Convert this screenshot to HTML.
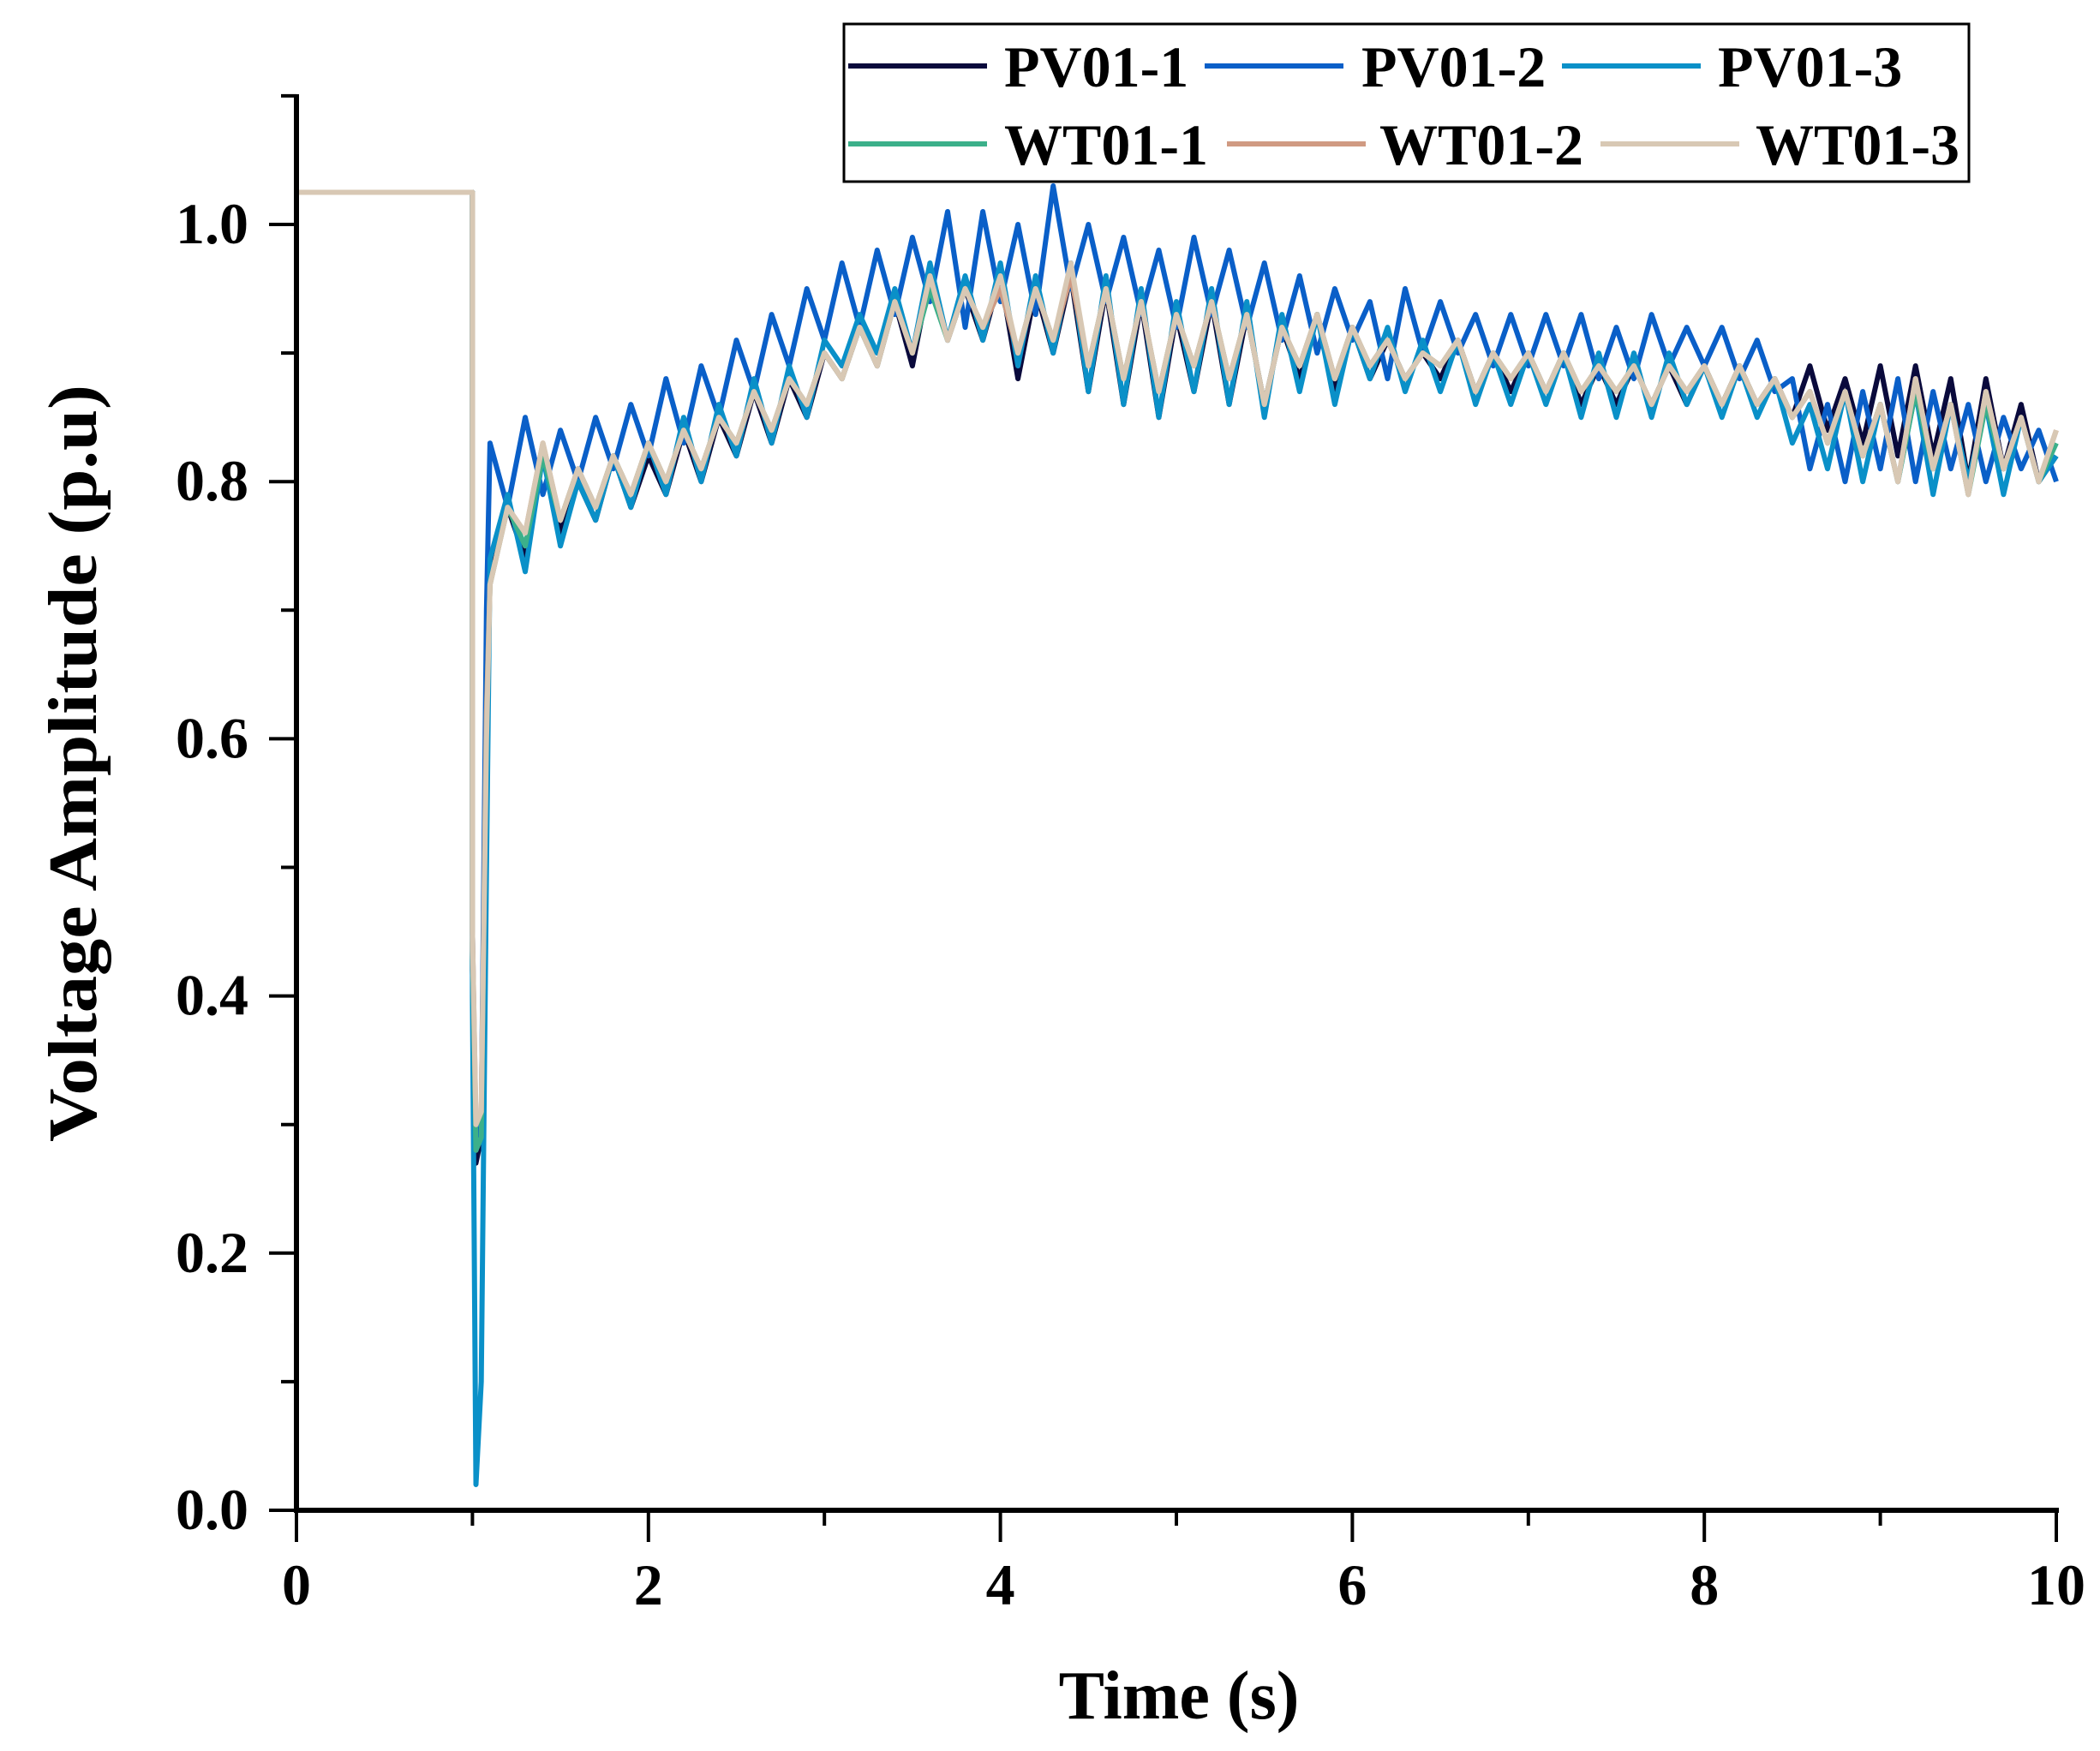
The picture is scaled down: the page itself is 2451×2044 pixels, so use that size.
<!DOCTYPE html>
<html><head><meta charset="utf-8"><style>
html,body{margin:0;padding:0;background:#fff}
svg{display:block}
text{font-family:"Liberation Serif",serif;font-weight:bold;fill:#000}
</style></head><body>
<svg id="chart" width="2451" height="2044" viewBox="0 0 2451 2044" xmlns="http://www.w3.org/2000/svg">
<g id="plot"></g>
<g id="axes"></g>
<text x="1376" y="2006" font-size="80" text-anchor="middle">Time (s)</text>
<text transform="translate(112,891) rotate(-90)" font-size="80" text-anchor="middle" textLength="884" lengthAdjust="spacingAndGlyphs">Voltage Amplitude (p.u)</text>
<g id="legend"></g>
</svg>
<script>
const seriesNames = ["PV01-1","PV01-2","PV01-3","WT01-1","WT01-2","WT01-3"];
const seriesColors = ["#0a0a3c","#0a5fc8","#0a90c8","#3cb08a","#d09a82","#d8c8b4"];
const xTicks = [0,2,4,6,8,10];
const xTickLabels = ["0","2","4","6","8","10"];
const yTicks = [0,0.2,0.4,0.6,0.8,1.0];
const yTickLabels = ["0.0","0.2","0.4","0.6","0.8","1.0"];
const tPrefix = [0,1.0,1.0,1.02,1.05,1.08];
const tStart = 1.1, tStep = 0.1, tCount = 90;

const pv011Pre = [1.025,1.025,0.42,0.27,0.29,0.62];
const pv011 = [0.73,0.78,0.74,0.82,0.76,0.80,0.77,0.82,0.78,0.82,
0.79,0.84,0.80,0.85,0.82,0.87,0.83,0.88,0.85,0.90,
0.88,0.92,0.89,0.94,0.89,0.96,0.91,0.95,0.91,0.96,
0.88,0.95,0.90,0.96,0.87,0.95,0.86,0.94,0.85,0.93,
0.87,0.94,0.86,0.93,0.86,0.92,0.88,0.93,0.87,0.92,
0.88,0.91,0.88,0.90,0.88,0.91,0.87,0.90,0.87,0.90,
0.87,0.90,0.86,0.89,0.86,0.89,0.86,0.89,0.86,0.89,
0.86,0.89,0.86,0.88,0.85,0.89,0.84,0.88,0.83,0.89,
0.82,0.89,0.82,0.88,0.80,0.88,0.81,0.86,0.80,0.82];
const pv012Pre = [1.025,1.025,0.45,0.28,0.30,0.70];
const pv012 = [0.83,0.78,0.85,0.79,0.84,0.80,0.85,0.81,0.86,0.82,
0.88,0.83,0.89,0.85,0.91,0.87,0.93,0.89,0.95,0.91,
0.97,0.92,0.98,0.93,0.99,0.94,1.01,0.92,1.01,0.94,
1.00,0.93,1.03,0.95,1.00,0.94,0.99,0.93,0.98,0.92,
0.99,0.93,0.98,0.92,0.97,0.91,0.96,0.90,0.95,0.91,
0.94,0.88,0.95,0.90,0.94,0.90,0.93,0.89,0.93,0.89,
0.93,0.89,0.93,0.88,0.92,0.88,0.93,0.89,0.92,0.89,
0.92,0.88,0.91,0.87,0.88,0.81,0.86,0.80,0.87,0.81,
0.88,0.80,0.87,0.81,0.86,0.80,0.85,0.81,0.84,0.80];
const pv013Pre = [1.025,1.025,0.40,0.02,0.10,0.50];
const pv013 = [0.74,0.79,0.73,0.82,0.75,0.80,0.77,0.82,0.78,0.83,
0.79,0.85,0.80,0.86,0.82,0.88,0.83,0.89,0.85,0.91,
0.89,0.93,0.90,0.95,0.90,0.97,0.91,0.96,0.91,0.97,
0.89,0.96,0.90,0.97,0.87,0.96,0.86,0.95,0.85,0.94,
0.87,0.95,0.86,0.94,0.85,0.93,0.87,0.93,0.86,0.92,
0.88,0.92,0.87,0.91,0.87,0.91,0.86,0.90,0.86,0.90,
0.86,0.90,0.85,0.90,0.85,0.90,0.85,0.90,0.86,0.89,
0.85,0.89,0.85,0.88,0.83,0.86,0.81,0.87,0.80,0.86,
0.80,0.87,0.79,0.86,0.80,0.86,0.79,0.85,0.80,0.82];
const wt011Pre = [1.025,1.025,0.44,0.28,0.29,0.62];
const wt011 = [0.72,0.78,0.75,0.82,0.77,0.81,0.78,0.82,0.79,0.83,
0.80,0.84,0.81,0.85,0.83,0.87,0.84,0.88,0.86,0.90,
0.88,0.92,0.89,0.94,0.90,0.95,0.91,0.95,0.92,0.95,
0.90,0.95,0.91,0.96,0.89,0.95,0.88,0.94,0.87,0.93,
0.89,0.94,0.88,0.93,0.86,0.92,0.89,0.93,0.88,0.92,
0.89,0.91,0.88,0.90,0.89,0.91,0.87,0.90,0.88,0.90,
0.87,0.90,0.87,0.89,0.87,0.89,0.86,0.89,0.87,0.89,
0.86,0.89,0.86,0.88,0.85,0.87,0.83,0.87,0.82,0.86,
0.80,0.87,0.81,0.86,0.79,0.86,0.81,0.85,0.80,0.83];
const wt012Pre = [1.025,1.025,0.45,0.30,0.31,0.62];
const wt012 = [0.72,0.78,0.76,0.83,0.77,0.81,0.78,0.82,0.79,0.83,
0.80,0.84,0.81,0.85,0.83,0.87,0.84,0.88,0.86,0.90,
0.88,0.92,0.89,0.94,0.90,0.96,0.91,0.95,0.92,0.95,
0.90,0.95,0.91,0.96,0.89,0.95,0.88,0.94,0.87,0.93,
0.89,0.94,0.88,0.93,0.86,0.92,0.89,0.93,0.88,0.92,
0.89,0.91,0.88,0.90,0.89,0.91,0.87,0.90,0.88,0.90,
0.87,0.90,0.87,0.89,0.87,0.89,0.86,0.89,0.87,0.89,
0.86,0.89,0.86,0.88,0.85,0.87,0.83,0.87,0.82,0.86,
0.80,0.88,0.81,0.86,0.79,0.87,0.81,0.85,0.80,0.84];
const wt013Pre = [1.025,1.025,0.45,0.30,0.31,0.60];
const wt013 = [0.72,0.78,0.76,0.83,0.77,0.81,0.78,0.82,0.79,0.83,
0.80,0.84,0.81,0.85,0.83,0.87,0.84,0.88,0.86,0.90,
0.88,0.92,0.89,0.94,0.90,0.96,0.91,0.95,0.92,0.96,
0.90,0.95,0.91,0.97,0.89,0.95,0.88,0.94,0.87,0.93,
0.89,0.94,0.88,0.93,0.86,0.92,0.89,0.93,0.88,0.92,
0.89,0.91,0.88,0.90,0.89,0.91,0.87,0.90,0.88,0.90,
0.87,0.90,0.87,0.89,0.87,0.89,0.86,0.89,0.87,0.89,
0.86,0.89,0.86,0.88,0.85,0.87,0.83,0.87,0.82,0.86,
0.80,0.88,0.81,0.86,0.79,0.87,0.81,0.85,0.80,0.84];

const NS = "http://www.w3.org/2000/svg";
const X0 = 346, X1 = 2400, Y0 = 1763, Y1 = 262;
function xs(t){ return X0 + (X1 - X0) * t / 10; }
function ys(v){ return Y0 - (Y0 - Y1) * v / 1.0; }
function mk(tag, attrs, parent){
  const e = document.createElementNS(NS, tag);
  for (const k in attrs) e.setAttribute(k, attrs[k]);
  parent.appendChild(e); return e;
}
const plot = document.getElementById("plot");
const axes = document.getElementById("axes");
const legend = document.getElementById("legend");

const pres = [pv011Pre, pv012Pre, pv013Pre, wt011Pre, wt012Pre, wt013Pre];
const mains = [pv011, pv012, pv013, wt011, wt012, wt013];
const times = tPrefix.slice();
for (let i = 0; i < tCount; i++) times.push(+(tStart + i * tStep).toFixed(2));

for (let s = 0; s < 6; s++) {
  const vals = pres[s].concat(mains[s]);
  let d = "";
  for (let i = 0; i < vals.length; i++) d += (i ? "L" : "M") + xs(times[i]).toFixed(1) + "," + ys(vals[i]).toFixed(1);
  const p = mk("path", {d: d, fill: "none", stroke: seriesColors[s], "stroke-width": 6, "stroke-linejoin": "round"}, plot);
  
  
}

const xa = mk("line", {x1: X0 - 3, y1: Y0, x2: X1 + 3, y2: Y0, stroke: "#000", "stroke-width": 6}, axes);


const ya = mk("line", {x1: X0, y1: 110, x2: X0, y2: Y0 + 3, stroke: "#000", "stroke-width": 6}, axes);



for (let t = 0; t <= 10; t++) {
  const major = t % 2 === 0;
  const tk = mk("line", {x1: xs(t), y1: Y0, x2: xs(t), y2: Y0 + (major ? 37 : 18), stroke: "#000", "stroke-width": 4}, axes);
  
  
}
for (let i = 0; i < xTicks.length; i++) {
  const tx = mk("text", {x: xs(xTicks[i]), y: 1873, "font-size": 68, "text-anchor": "middle"}, axes);
  tx.textContent = xTickLabels[i];
  
  
}
for (let k = 0; k <= 11; k++) {
  const v = k / 10, major = k % 2 === 0;
  const tk = mk("line", {x1: X0, y1: ys(v), x2: X0 - (major ? 32 : 18), y2: ys(v), stroke: "#000", "stroke-width": 4}, axes);
  
  
}
for (let i = 0; i < yTicks.length; i++) {
  const tx = mk("text", {x: 290, y: ys(yTicks[i]) + 22, "font-size": 68, "text-anchor": "end"}, axes);
  tx.textContent = yTickLabels[i];
  
  
}

const box = mk("rect", {x: 985, y: 28, width: 1313, height: 184, fill: "#fff", stroke: "#000", "stroke-width": 3}, legend);


const legLine = [[990,1406,1823],[990,1432,1868]];
const legText = [[1172,1589,2005],[1172,1610,2049]];
const legY = [77, 168];
for (let s = 0; s < 6; s++) {
  const r = Math.floor(s / 3), c = s % 3;
  const g = mk("g", {}, legend);
  
  
  const l = mk("line", {x1: legLine[r][c], y1: legY[r], x2: legLine[r][c] + 162, y2: legY[r], stroke: seriesColors[s], "stroke-width": 6}, g);
  
  
  const tx = mk("text", {x: legText[r][c], y: legY[r] + 24, "font-size": 68}, g);
  tx.textContent = seriesNames[s];
  
  
}
</script>
</body></html>
